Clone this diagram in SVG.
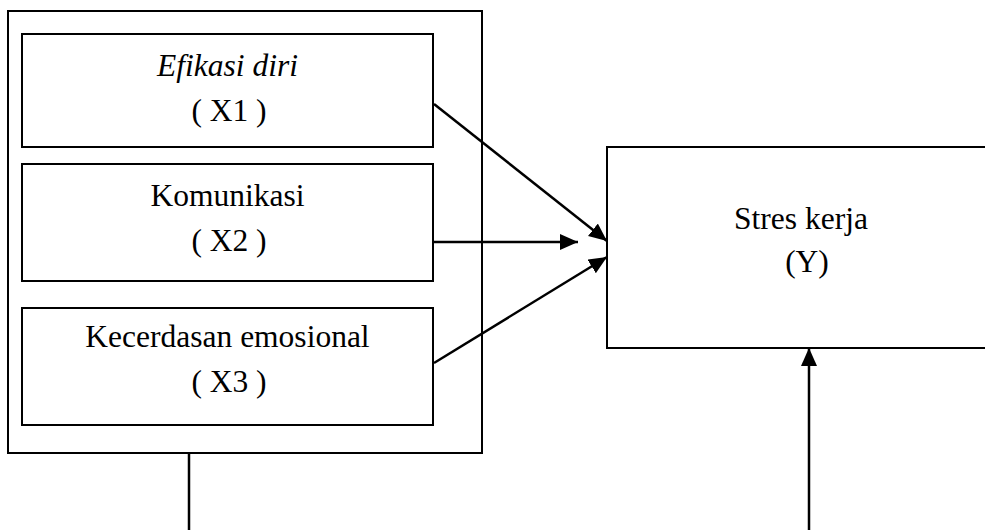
<svg xmlns="http://www.w3.org/2000/svg" width="985" height="530" viewBox="0 0 985 530">
<style>
.box{fill:#fff;stroke:#000;stroke-width:2}
.t{font-family:"Liberation Serif","Times New Roman",serif;font-size:31.5px;fill:#000;text-anchor:middle}
.i{font-style:italic}
.c{stroke:#000;stroke-width:2.5;fill:none}
</style>
<defs>
<marker id="ah" markerUnits="userSpaceOnUse" markerWidth="18" markerHeight="16" refX="18" refY="8" orient="auto">
<path d="M0,0 L18,8 L0,16 Z" fill="#000"/>
</marker>
</defs>
<rect width="985" height="530" fill="#fff"/>
<g id="outer"><rect class="box" x="8" y="11" width="474" height="442"/></g>
<g id="x1"><rect class="box" x="22" y="34" width="411" height="113"/>
<text class="t i" x="227.5" y="76">Efikasi diri</text>
<text class="t" x="229" y="121">( X1 )</text></g>
<g id="x2"><rect class="box" x="22" y="164" width="411" height="117"/>
<text class="t" x="227.5" y="206">Komunikasi</text>
<text class="t" x="229" y="251">( X2 )</text></g>
<g id="x3"><rect class="box" x="22" y="308" width="411" height="117"/>
<text class="t" x="227.5" y="347">Kecerdasan emosional</text>
<text class="t" x="229" y="392">( X3 )</text></g>
<g id="y"><rect class="box" x="607" y="147" width="390" height="201"/>
<text class="t" x="801" y="229">Stres kerja</text>
<text class="t" x="807" y="272">(Y)</text></g>
<g id="connectors">
<line class="c" x1="434" y1="104" x2="607" y2="241" marker-end="url(#ah)"/>
<line class="c" x1="433" y1="242" x2="578" y2="242" marker-end="url(#ah)"/>
<line class="c" x1="434" y1="363" x2="607" y2="257" marker-end="url(#ah)"/>
<line class="c" x1="189" y1="453" x2="189" y2="530"/>
<line class="c" x1="809" y1="530" x2="809" y2="348" marker-end="url(#ah)"/>
</g>
</svg>
